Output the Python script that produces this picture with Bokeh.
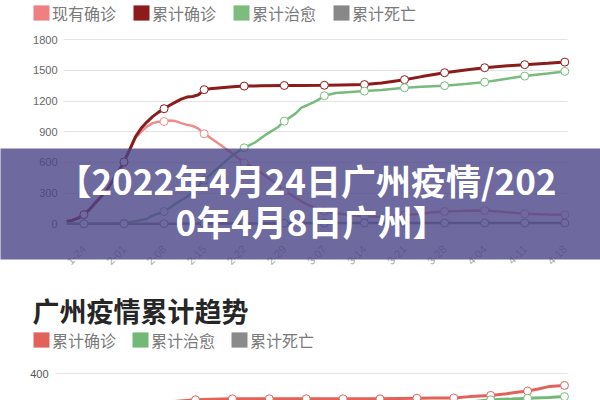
import math
from bokeh.plotting import figure
from bokeh.models import (Legend, LegendItem, BoxAnnotation, Label, FixedTicker, Range1d)
from bokeh.core.properties import value
from bokeh.layouts import column
from bokeh.embed import file_html
from bokeh.resources import INLINE

# ---------------- data: top chart (Guangdong) ----------------
week_days = [3, 10, 17, 24, 31, 38, 45, 52, 59, 66, 73, 80, 87]
week_labels = ["1-24", "2-01", "2-08", "2-15", "2-22", "2-29", "3-07",
               "3-14", "3-21", "3-28", "4-04", "4-11", "4-18"]

conf_days = [0, 1, 2, 3, 4, 5, 6, 7, 8, 9, 10, 11, 12, 13, 14, 15, 16, 17, 18, 19, 20,
             21, 22, 23, 24, 25, 27, 29, 31, 34, 38, 41, 45, 48, 52, 55, 59, 62, 66,
             70, 73, 77, 80, 84, 87]
conf_vals = [22, 35, 55, 90, 140, 205, 265, 330, 420, 510, 605, 725, 850, 935, 995,
             1048, 1090, 1126, 1160, 1190, 1220, 1240, 1246, 1262, 1312, 1322, 1332,
             1340, 1347, 1350, 1353, 1354, 1355, 1358, 1362, 1378, 1410, 1440, 1478,
             1507, 1527, 1545, 1557, 1570, 1582]

cur_days = [0, 1, 2, 3, 4, 5, 6, 7, 8, 9, 10, 11, 12, 13, 14, 15, 16, 17, 18, 19, 20,
            21, 22, 23, 24, 25, 26, 27, 28, 29, 30, 31, 33, 35, 37, 38, 39, 41, 42, 44,
            45, 47, 49, 52, 55, 59, 62, 64, 66, 70, 73, 76, 80, 84, 87]
cur_vals = [22, 35, 55, 90, 140, 205, 265, 328, 418, 505, 597, 720, 840, 900, 950,
            985, 998, 1001, 1010, 1005, 985, 968, 958, 930, 881, 845, 805, 765, 725,
            685, 642, 597, 540, 455, 375, 320, 290, 220, 190, 140, 125, 104, 88, 72,
            70, 86, 98, 112, 120, 128, 130, 118, 98, 90, 88]

cured_days = [0, 3, 7, 10, 12, 13, 14, 15, 16, 17, 18, 19, 20, 21, 22, 23, 24, 25, 26,
              27, 28, 29, 30, 31, 33, 35, 37, 38, 40, 41, 42, 43, 44, 45, 47, 49, 52,
              55, 59, 62, 66, 70, 73, 76, 80, 84, 87]
cured_vals = [0, 0, 1, 6, 25, 38, 50, 80, 100, 120, 155, 195, 230, 265, 310, 370, 428,
              475, 525, 575, 625, 670, 710, 743, 800, 880, 950, 1004, 1080, 1137, 1160,
              1185, 1215, 1253, 1279, 1288, 1298, 1310, 1331, 1340, 1351, 1370, 1386,
              1412, 1445, 1470, 1491]

dead_days = [0, 3, 10, 17, 24, 31, 38, 45, 52, 59, 66, 73, 80, 87]
dead_vals = [0, 0, 0, 1, 2, 3, 5, 7, 8, 8, 8, 8, 8, 8]

top_names = ["现有确诊", "累计确诊", "累计治愈", "累计死亡"]
top_colors = ["#ee8c8c", "#8c1c1c", "#78bb7c", "#8a8a8a"]
top_swatch = ["#f08080", "#8e1b1b", "#7dbb7f", "#888888"]
y_ticks = [0, 300, 600, 900, 1200, 1500, 1800]

banner_lines = ["【2022年4月24日广州疫情/202", "0年4月8日广州】"]

# ---------------- data: bottom chart (Guangzhou) ----------------
gz_title = "广州疫情累计趋势"
gz_conf_days = [3, 5, 10, 13, 17, 20, 24, 31, 38, 45, 52, 59, 62, 66, 69, 73, 76, 78,
                80, 82, 84, 87]
gz_conf_vals = [150, 290, 320, 331, 335, 336.5, 337.5, 337.5, 337.5, 337.5, 337.5, 339,
                339.5, 339.5, 343, 346, 350, 354, 357, 362, 368, 371]
gz_cured_days = [3, 10, 17, 24, 31, 38, 45, 52, 59, 62, 66, 70, 73, 77, 80, 84, 87]
gz_cured_vals = [0, 2, 10, 60, 150, 230, 280, 300, 305, 310, 322, 331, 335, 337, 339,
                 341, 343]
gz_dead_days = [3, 10, 17, 24, 31, 38, 45, 52, 59, 66, 73, 80, 87]
gz_dead_vals = [0, 0, 0, 0, 1, 1, 1, 1, 1, 1, 1, 1, 1]
gz_names = ["累计确诊", "累计治愈", "累计死亡"]
gz_colors = ["#e2625a", "#74b878", "#8a8a8a"]
gz_ticks = [400]

CJK = "Noto Sans CJK SC"
LAT = "Liberation Sans"


def markers(days, vals, weeks):
    d = dict(zip(days, vals))
    xs = [w for w in weeks if w in d]
    return xs, [d[w] for w in xs]


def style_plot(p, ticks, color, axis_x, grid_end, standoff):
    """Horizontal grid over the data area, tick values written at the axis position."""
    p.outline_line_color = None
    p.xaxis.visible = False
    p.yaxis.visible = False
    p.xgrid.visible = False
    p.ygrid.grid_line_color = "#e3e3e3"
    p.ygrid.ticker = FixedTicker(ticks=ticks)
    try:
        p.ygrid.cross_bounds = (axis_x, grid_end)
    except Exception:
        pass
    p.text(x=[axis_x] * len(ticks), y=ticks, text=[str(t) for t in ticks],
           x_offset=-standoff, text_align="right", text_baseline="middle",
           text_font=value(LAT), text_font_size="11px", text_color=color)


def make_legend(p, names, colors, loc, spacing):
    items = []
    for name, col in zip(names, colors):
        r = p.quad(left=[math.nan], right=[math.nan], top=[math.nan], bottom=[math.nan],
                   fill_color=col, line_color=None)
        items.append(LegendItem(label=name, renderers=[r], index=0))
    leg = Legend(items=items, orientation="horizontal", location=loc,
                 glyph_width=20, glyph_height=19, label_standoff=1, spacing=spacing,
                 padding=0, margin=0, background_fill_alpha=0, border_line_color=None,
                 label_text_font=CJK, label_text_font_size="16px",
                 label_text_color="#7a7a7a", label_height=20)
    p.add_layout(leg)


# ================= top figure =================
p1 = figure(width=600, height=280, x_range=Range1d(-11.567, 93.234),
            y_range=Range1d(-554.7, 2184.5), output_backend="svg",
            toolbar_location=None, min_border=0)
style_plot(p1, y_ticks, "#666666", -0.563, 87.47, 6)

series = [(cur_days, cur_vals, 2.5), (conf_days, conf_vals, 3),
          (cured_days, cured_vals, 2.5), (dead_days, dead_vals, 2.5)]
for (dd, vv, lw), col in zip(series, top_colors):
    p1.line(dd, vv, line_color=col, line_width=lw)
    mx, my = markers(dd, vv, week_days)
    p1.scatter(mx, my, size=8, fill_color="white", line_color=col, line_width=1)

# rotated category labels under the zero line
label_y = -229
p1.text(x=week_days, y=[label_y] * len(week_days), text=week_labels,
        angle=math.pi / 4, text_align="right", text_baseline="middle",
        text_font=value(LAT), text_font_size="11px", text_color="#a8a8a8")

make_legend(p1, top_names, top_swatch, (31, 255.5), 15)

banner = BoxAnnotation(left=-30, right=110, top=736.6, bottom=-349.2,
                       fill_color="#4a4588", fill_alpha=0.8, line_color=None)
p1.add_layout(banner)
for txt, bx, by in zip(banner_lines, [41.88, 42.76], [433.4, 32.3]):
    p1.add_layout(Label(x=bx, y=by, text=txt, text_align="center",
                        text_baseline="middle", text_color="white", text_font=CJK,
                        text_font_style="bold", text_font_size="35px"))

# ================= bottom figure =================
p2 = figure(width=600, height=120, x_range=Range1d(-19.994, 93.83),
            y_range=Range1d(333.3, 633.3), output_backend="svg",
            toolbar_location=None, min_border=0)
style_plot(p2, gz_ticks, "#555555", -9.56, 87.57, 7)

gz_series = [(gz_conf_days, gz_conf_vals), (gz_cured_days, gz_cured_vals),
             (gz_dead_days, gz_dead_vals)]
for (dd, vv), col in zip(gz_series, gz_colors):
    p2.line(dd, vv, line_color=col, line_width=3)
    mx, my = markers(dd, vv, week_days)
    p2.scatter(mx, my, size=8, fill_color="white", line_color=col, line_width=1)

make_legend(p2, gz_names, gz_colors, (31, 48.5), 14)
p2.add_layout(Label(x=-13.92, y=558.3, text=gz_title, text_align="left",
                    text_baseline="middle", text_color="#262626", text_font=CJK,
                    text_font_style="bold", text_font_size="27px"))

layout = column(p1, p2, spacing=0)
open("out.html", "w").write(file_html(layout, INLINE))
